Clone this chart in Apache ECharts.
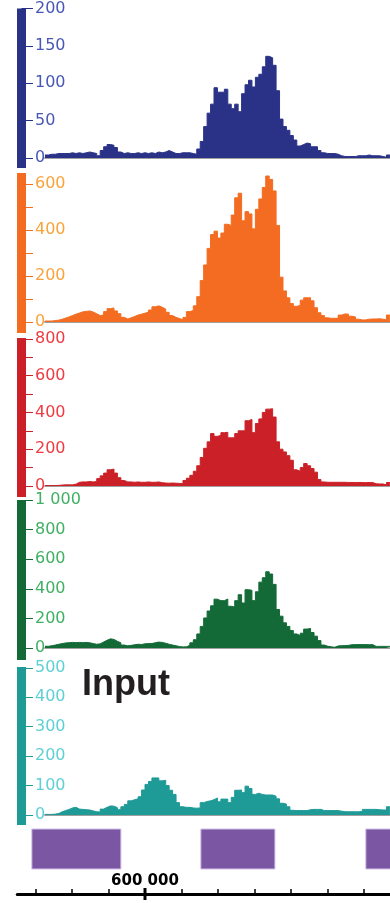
<!DOCTYPE html>
<html><head><meta charset="utf-8">
<script src="https://cdn.jsdelivr.net/npm/echarts@6/dist/echarts.min.js"></script>
<style>html,body{margin:0;padding:0;background:#fff}#c{width:390px;height:903px}</style>
</head><body><div id="c"></div>
<script>
// ---- data ----
const binStart = 572600;   // genomic position of first bin
const binSize = 945;       // bp per bin

const track1 = [4,5,5,6,6, 6,6,7,6,7, 6,7,8,7,6, 3,10,15,18,17, 14,8,6,7,6, 6,7,6,7,6, 7,6,8,7,8, 10,8,6,6,7,
  7,7,6,5,12, 22,42,60,72,94, 88,88,92,72,66, 72,62,86,98,104, 95,108,112,122,136, 134,124,90,52,42,
  37,30,24,16,18, 20,19,15,15,10, 7,6,6,6,5, 3,2,2,2,2, 3,3,3,4,3, 3,3,2,1,4];
const track2 = [4,4,6,8,12, 17,22,28,34,39, 44,46,48,43,36, 28,30,45,58,61, 48,36,20,13,18, 24,30,34,38,43,
  52,66,70,64,56, 42,28,20,15,10, 20,45,50,70,110, 180,248,320,380,395, 365,387,425,420,465, 540,560,440,480,470,
  405,490,535,585,635, 620,570,420,195,135, 105,80,68,72,95, 105,105,92,62,40, 28,18,16,16,16, 30,35,34,25,22,
  12,9,9,12,13, 13,14,12,9,30];
const track3 = [2,2,2,3,5, 6,6,6,10,20, 22,22,24,22,24, 40,55,70,88,92, 70,45,30,22,22, 20,22,20,20,22,
  20,20,22,18,16, 15,16,15,14,12, 30,42,58,80,110, 155,205,240,285,270, 275,290,292,262,262, 285,300,300,355,362,
  290,340,365,400,418, 420,375,240,200,185, 165,140,88,80,100, 122,110,95,75,35, 22,20,20,20,20, 20,20,19,19,19,
  19,19,18,19,19, 12,11,11,6,19];
const track4 = [12,15,20,25,30, 34,36,38,36,38, 36,38,35,30,25, 28,40,52,62,58, 45,35,20,15,18, 22,25,24,28,30,
  30,36,40,38,32, 25,20,15,10,7, 8,18,35,56,95, 146,203,250,285,330, 320,320,331,282,277, 320,360,304,394,390,
  320,380,445,475,515, 500,430,260,215,170, 146,118,95,84,100, 128,132,105,80,50, 20,12,8,5,14, 16,16,18,22,23,
  23,23,23,22,23, 11,11,11,11,11];
const trackInput = [2,2,3,5,11, 15,19,24,26,20, 19,18,17,14,11, 10,20,26,31,30, 25,18,28,36,48, 52,55,62,85,104,
  114,126,126,116,118, 100,84,70,42,28, 26,26,24,23,24, 42,46,48,52,58, 45,54,54,42,60, 84,85,76,98,90,
  70,74,70,68,68, 68,64,55,40,37, 28,16,15,15,15, 15,18,19,19,19, 15,15,15,15,15, 13,11,11,11,11,
  11,12,19,19,19, 19,18,17,17,28];

const ticks1 = [0,50,100,150,200],            labels1 = [0,50,100,150,200];
const ticks2 = [0,100,200,300,400,500,600],   labels2 = [0,200,400,600];
const ticks3 = [0,100,200,300,400,500,600,700,800], labels3 = [0,200,400,600,800];
const ticks4 = [0,200,400,600,800,1000],      labels4 = [0,200,400,600,800,1000];
const ticks5 = [0,100,200,300,400,500],       labels5 = [0,100,200,300,400,500];

const geneStarts = [569000, 615300, 660500];
const geneEnds   = [593400, 635600, 690000];

const coordTickValues = [570000,580000,590000,600000,610000,620000,630000,640000,650000,660000];
const coordLabelValues = [600000];
const coordMajorValues = [600000];

const inputLabel = 'Input';

// ---- layout ----
const AX_MIN = 565000, AX_LEFT = 17.25, PX_PER_BP = 36.5 / 10000, W = 390;
const AX_MAX = AX_MIN + (W - AX_LEFT) / PX_PER_BP;
const DATA_LEFT = 45;
const DATA_MIN = AX_MIN + (DATA_LEFT - AX_LEFT) / PX_PER_BP;

const fmt = v => String(v).replace(/\B(?=(\d{3})+(?!\d))/g, ' ');

const panels = [
  {vals: track1, color: '#2a3288', lab: '#4857b3', ticks: ticks1, labels: labels1, min: -13.4, max: 200, top: 8.5, height: 159.5},
  {vals: track2, color: '#f36c21', lab: '#f9a33b', ticks: ticks2, labels: labels2, min: -48, max: 648, top: 173, height: 160},
  {vals: track3, color: '#cb2027', lab: '#ef3b41', ticks: ticks3, labels: labels3, min: -60, max: 805, top: 338, height: 159},
  {vals: track4, color: '#136a37', lab: '#40b062', ticks: ticks4, labels: labels4, min: -81, max: 1000, top: 500, height: 160},
  {vals: trackInput, color: '#1e9a97', lab: '#5fcfd6', ticks: ticks5, labels: labels5, min: -34, max: 503, top: 667, height: 158}
];

const grid = [], xAxis = [], yAxis = [], series = [];
panels.forEach((p, i) => {
  grid.push({left: DATA_LEFT, right: 0, top: p.top, height: p.height});
  xAxis.push({gridIndex: i, type: 'value', min: DATA_MIN, max: AX_MAX,
    axisLine: {show: true, onZero: true, lineStyle: {color: '#a0a0a0', width: 2}},
    axisTick: {show: false}, axisLabel: {show: false}, splitLine: {show: false}});
  yAxis.push({gridIndex: i, type: 'value', min: p.min, max: p.max, position: 'left', offset: 23.5,
    axisLine: {show: true, onZero: false, lineStyle: {color: p.color, width: 9, cap: 'butt'}},
    axisTick: {show: true, inside: true, length: 11.5, customValues: p.ticks, lineStyle: {color: p.color, width: 1}},
    axisLabel: {show: true, inside: true, margin: 13.5, customValues: p.labels, color: p.lab,
      fontFamily: 'DejaVu Sans', fontSize: 16, formatter: v => fmt(v)},
    splitLine: {show: false}});
  const data = p.vals.map((v, k) => [binStart + k * binSize, v]);
  data.push([binStart + p.vals.length * binSize, p.vals[p.vals.length - 1]]);
  series.push({type: 'line', xAxisIndex: i, yAxisIndex: i, step: 'end', symbol: 'none',
    lineStyle: {color: p.color, width: 1}, areaStyle: {color: p.color, opacity: 1},
    data: data, animation: false, silent: true});
});

// gene / coordinate grid
const gi = panels.length;
grid.push({left: AX_LEFT, right: 0, top: 829, height: 65});
xAxis.push({gridIndex: gi, type: 'value', min: AX_MIN, max: AX_MAX,
  axisLine: {show: true, lineStyle: {color: '#000', width: 3}},
  axisTick: {show: true, inside: true, length: 5, customValues: coordTickValues, lineStyle: {color: '#000', width: 1.5}},
  axisLabel: {show: true, inside: true, margin: 5, customValues: coordLabelValues, formatter: v => fmt(v),
    color: '#000', fontFamily: 'DejaVu Sans', fontWeight: 'bold', fontSize: 15},
  splitLine: {show: false}});
yAxis.push({gridIndex: gi, type: 'value', min: 0, max: 65, show: false});

series.push({type: 'custom', xAxisIndex: gi, yAxisIndex: gi, animation: false, silent: true,
  data: geneStarts.map((s, k) => [s, geneEnds[k]]),
  renderItem: (params, api) => {
    const p0 = api.coord([api.value(0), 65]);
    const p1 = api.coord([api.value(1), 25]);
    return {type: 'rect', shape: {x: p0[0], y: p0[1], width: p1[0] - p0[0], height: p1[1] - p0[1]},
      style: {fill: '#7b56a2', stroke: '#d2c0ea', lineWidth: 1}};
  }});
series.push({type: 'custom', xAxisIndex: gi, yAxisIndex: gi, animation: false, silent: true,
  data: coordMajorValues.map(v => [v, 0]),
  renderItem: (params, api) => {
    const p = api.coord([api.value(0), 0]);
    return {type: 'rect', shape: {x: p[0] - 1.5, y: p[1] - 6, width: 3, height: 12}, style: {fill: '#000'}};
  }});

const chart = echarts.init(document.getElementById('c'), null, {renderer: 'canvas'});
chart.setOption({
  backgroundColor: '#fff',
  animation: false,
  grid, xAxis, yAxis, series,
  graphic: [{type: 'text', x: 82, y: 685, style: {text: inputLabel, fill: '#231f20',
    font: 'bold 36px "Liberation Sans", Arial, sans-serif', verticalAlign: 'middle', align: 'left'}}]
});
</script></body></html>
